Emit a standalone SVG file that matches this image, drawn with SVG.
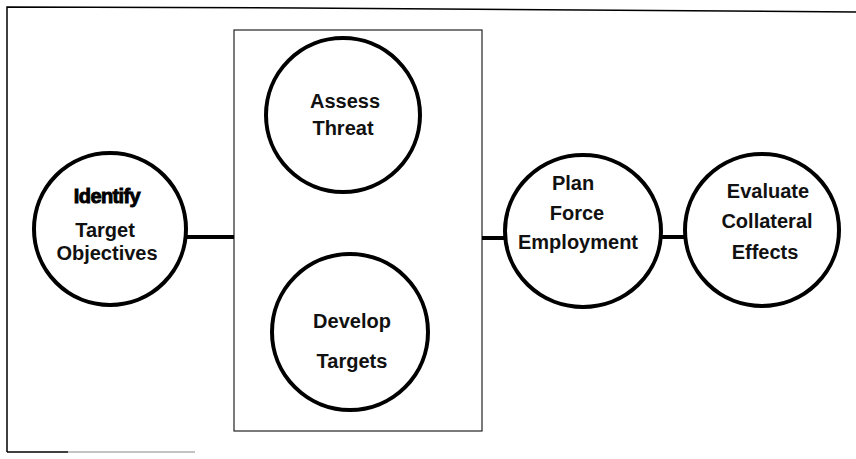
<svg xmlns="http://www.w3.org/2000/svg" width="856" height="459" viewBox="0 0 856 459">
<style>
.frame{stroke:#000;fill:none;stroke-width:1.5}
.box{stroke:#222;fill:none;stroke-width:1.2}
.node{fill:#fff;stroke:#000;stroke-width:4}
.conn{stroke:#000;stroke-width:4;fill:none}
text{font-family:"Liberation Sans",Arial,sans-serif;font-size:20px;font-weight:bold;fill:#111;text-anchor:middle}
.b{stroke:#000;stroke-width:0.9;letter-spacing:-0.6px;fill:#000}
</style>
<rect width="856" height="459" fill="#fff"/>
<g id="frame">
<path class="frame" d="M7,452 L7,7 L300,8 L856,12"/>
<path class="frame" d="M7,452 L68,452"/>
<path d="M68,452 L195,452" stroke="#888" stroke-width="1.2"/>
</g>
<rect id="group-box" class="box" x="234" y="30" width="248" height="401"/>
<g id="connectors">
<line class="conn" x1="177" y1="237" x2="234" y2="237"/>
<line class="conn" x1="482" y1="238" x2="508" y2="238"/>
<line class="conn" x1="660" y1="237" x2="686" y2="237"/>
</g>
<g id="identify">
<ellipse class="node" cx="110" cy="229" rx="76" ry="76"/>
<text class="b" x="107" y="203">Identify</text>
<text x="105" y="237">Target</text>
<text x="107" y="260">Objectives</text>
</g>
<g id="assess">
<ellipse class="node" cx="343" cy="115" rx="77" ry="77"/>
<text x="345" y="108">Assess</text>
<text x="343" y="135">Threat</text>
</g>
<g id="develop">
<ellipse class="node" cx="350" cy="332" rx="78" ry="78"/>
<text x="352" y="328">Develop</text>
<text x="352" y="368">Targets</text>
</g>
<g id="plan">
<ellipse class="node" cx="583" cy="231" rx="78" ry="76"/>
<text x="573" y="190">Plan</text>
<text x="577" y="220">Force</text>
<text x="578" y="249">Employment</text>
</g>
<g id="evaluate">
<ellipse class="node" cx="762" cy="230" rx="77" ry="76"/>
<text x="768" y="198">Evaluate</text>
<text x="767" y="228">Collateral</text>
<text x="765" y="259">Effects</text>
</g>
</svg>
